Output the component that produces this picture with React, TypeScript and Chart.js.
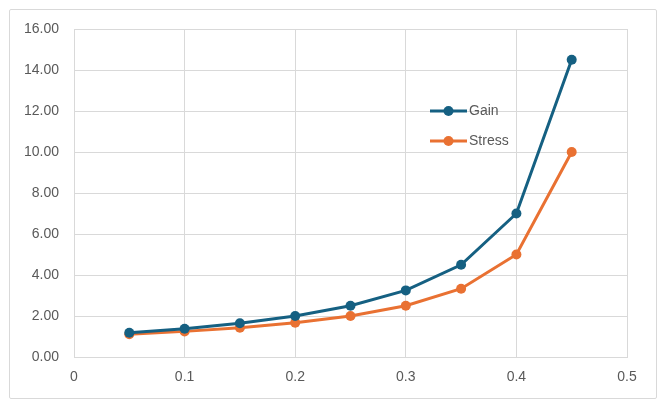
import React, { useEffect, useRef } from "react";
import { Chart, registerables } from "chart.js";

Chart.register(...registerables);

const xValues = [0.05, 0.1, 0.15, 0.2, 0.25, 0.3, 0.35, 0.4, 0.45];
const gainValues = [1.18, 1.38, 1.65, 2.0, 2.5, 3.25, 4.5, 7.0, 14.5];
const stressValues = [1.11, 1.25, 1.43, 1.67, 2.0, 2.5, 3.33, 5.0, 10.0];
const seriesNames = ["Gain", "Stress"];
const seriesColors = ["#156082", "#E97132"];

const FONT = "'Liberation Sans', Arial, sans-serif";

const legendPlugin = {
  id: "insideLegend",
  afterDatasetsDraw(chart: any) {
    const ctx = chart.ctx;
    const startX = 430;
    const ys = [111, 141];
    ctx.save();
    seriesNames.forEach((name, i) => {
      const y = ys[i];
      ctx.strokeStyle = seriesColors[i];
      ctx.lineWidth = 3;
      ctx.beginPath();
      ctx.moveTo(startX, y);
      ctx.lineTo(startX + 37, y);
      ctx.stroke();
      ctx.fillStyle = seriesColors[i];
      ctx.beginPath();
      ctx.arc(startX + 18.5, y, 5, 0, Math.PI * 2);
      ctx.fill();
      ctx.fillStyle = "#595959";
      ctx.font = `14px ${FONT}`;
      ctx.textAlign = "left";
      ctx.textBaseline = "middle";
      ctx.fillText(name, startX + 39, y + 0.5);
    });
    ctx.restore();
  },
};

export default function App() {
  const ref = useRef<HTMLCanvasElement>(null);

  useEffect(() => {
    document.body.style.margin = "0";
    if (!ref.current) return;
    const mk = (vals: number[]) => xValues.map((x, i) => ({ x, y: vals[i] }));
    const chart = new Chart(ref.current, {
      type: "line",
      data: {
        datasets: [
          {
            label: seriesNames[0],
            data: mk(gainValues),
            borderColor: seriesColors[0],
            backgroundColor: seriesColors[0],
            borderWidth: 3,
            pointRadius: 5,
            pointBorderWidth: 0,
            tension: 0,
          },
          {
            label: seriesNames[1],
            data: mk(stressValues),
            borderColor: seriesColors[1],
            backgroundColor: seriesColors[1],
            borderWidth: 3,
            pointRadius: 5,
            pointBorderWidth: 0,
            tension: 0,
          },
        ],
      },
      options: {
        animation: false,
        responsive: false,
        devicePixelRatio: 1,
        layout: { padding: { top: 29, right: 39, bottom: 0, left: 0 } },
        plugins: { legend: { display: false }, tooltip: { enabled: false } },
        scales: {
          x: {
            type: "linear",
            min: 0,
            max: 0.5,
            ticks: {
              stepSize: 0.1,
              color: "#595959",
              font: { family: FONT, size: 14 },
              padding: 12,
              callback: (v: any) => (Math.round(Number(v) * 10) / 10).toString(),
            },
            grid: { color: "#d9d9d9", lineWidth: 1, drawTicks: false },
            border: { color: "#d9d9d9" },
            afterFit: (s: any) => {
              s.height = 51;
            },
          },
          y: {
            min: 0,
            max: 16,
            ticks: {
              stepSize: 2,
              color: "#595959",
              font: { family: FONT, size: 14 },
              padding: 15,
              callback: (v: any) => Number(v).toFixed(2),
            },
            grid: { color: "#d9d9d9", lineWidth: 1, drawTicks: false },
            border: { color: "#d9d9d9" },
            afterFit: (s: any) => {
              s.width = 74;
            },
          },
        },
      },
      plugins: [legendPlugin],
    });
    return () => chart.destroy();
  }, []);

  return (
    <div style={{ position: "relative", width: 666, height: 408, background: "#fff" }}>
      <canvas ref={ref} width={666} height={408} style={{ position: "absolute", left: 0, top: 0 }} />
      <div
        style={{
          position: "absolute",
          left: 9,
          top: 9,
          width: 646,
          height: 388,
          border: "1px solid #d9d9d9",
          borderRadius: 2,
          pointerEvents: "none",
        }}
      />
    </div>
  );
}
